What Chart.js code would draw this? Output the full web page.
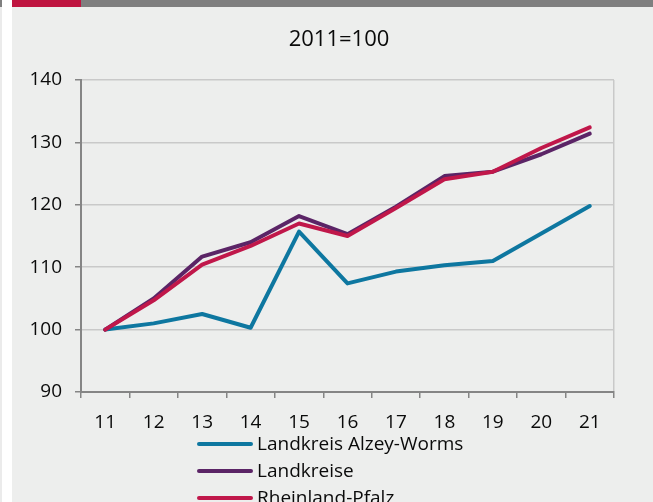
<!DOCTYPE html>
<html>
<head>
<meta charset="utf-8">
<script src="https://cdn.jsdelivr.net/npm/chart.js@4"></script>
<style>
  html, body { margin: 0; padding: 0; background: #ffffff; overflow: hidden; }
  #edge { position: absolute; left: 0; top: 0; width: 2px; height: 502px; background: #ebebeb; }
  #edge::before { content: ""; position: absolute; left: 0; top: 0; width: 2px; height: 7px; background: #7f7f7f; }
  #panel { position: absolute; left: 12px; top: 0; width: 641px; height: 502px; background: #edeeed; }
  #bar { position: absolute; left: 0; top: 0; width: 641px; height: 7px; background: #7f7f7f; }
  #bar span { position: absolute; left: 0; top: 0; width: 69px; height: 7px; background: #bf1540; }
  #chart { position: absolute; left: 0; top: 7px; }
</style>
</head>
<body>
<div id="edge"></div>
<div id="panel">
  <div id="bar"><span></span></div>
  <canvas id="chart" width="641" height="495"></canvas>
</div>
<script>
// Jahre (2011 = 100)
const years = ['11', '12', '13', '14', '15', '16', '17', '18', '19', '20', '21'];
const alzeyWorms = [100, 101.0, 102.5, 100.3, 115.7, 107.4, 109.3, 110.3, 111.0, 115.4, 119.8];
const landkreise = [100, 105.0, 111.7, 114.0, 118.2, 115.3, 119.7, 124.6, 125.3, 128.1, 131.4];
const rheinlandPfalz = [100, 104.7, 110.4, 113.4, 117.0, 115.0, 119.5, 124.1, 125.3, 129.1, 132.4];
const yTicks = [90, 100, 110, 120, 130, 140];
const titleText = '2011=100';

const FONT = "'Open Sans', 'Noto Sans', sans-serif";
const TEXT = '#0a0a0a';
const GRID = '#c9c9c9';
const AXIS = '#858585';

// Title and vertically stacked legend drawn on the canvas
const annotations = {
  id: 'annotations',
  afterDraw(chart) {
    const ctx = chart.ctx;
    ctx.save();
    ctx.fillStyle = TEXT;
    ctx.font = '22px ' + FONT;
    ctx.textAlign = 'center';
    ctx.textBaseline = 'middle';
    ctx.fillText(titleText, 327, 33);

    const items = chart.data.datasets;
    ctx.textAlign = 'left';
    ctx.font = '19px ' + FONT;
    items.forEach((ds, i) => {
      const y = 437 + i * 27;
      ctx.strokeStyle = ds.borderColor;
      ctx.lineWidth = 4;
      ctx.lineCap = 'round';
      ctx.beginPath();
      ctx.moveTo(187, y);
      ctx.lineTo(239, y);
      ctx.stroke();
      ctx.fillStyle = TEXT;
      ctx.fillText(ds.label, 245, y + 1);
    });
    ctx.restore();
  }
};

new Chart(document.getElementById('chart'), {
  type: 'line',
  data: {
    labels: years,
    datasets: [
      { label: 'Landkreis Alzey-Worms', data: alzeyWorms, borderColor: '#0e77a0', order: 2 },
      { label: 'Landkreise', data: landkreise, borderColor: '#5b2466', order: 1 },
      { label: 'Rheinland-Pfalz', data: rheinlandPfalz, borderColor: '#c0174a', order: 0 }
    ]
  },
  options: {
    responsive: false,
    animation: false,
    devicePixelRatio: 1,
    layout: { padding: { top: 73, right: 39, left: 0, bottom: 0 } },
    elements: {
      line: { borderWidth: 4, tension: 0, borderCapStyle: 'round', borderJoinStyle: 'round', fill: false },
      point: { radius: 0, hoverRadius: 0 }
    },
    plugins: {
      legend: { display: false },
      title: { display: false },
      tooltip: { enabled: false }
    },
    scales: {
      x: {
        offset: true,
        afterFit(scale) { scale.height = 110; },
        grid: {
          offset: true,
          drawOnChartArea: true,
          color: (c) => (c.type === 'scale' ? GRID : 'rgba(0,0,0,0)'),
          lineWidth: 1.5,
          tickColor: AXIS,
          tickLength: 6,
          tickWidth: 1.5
        },
        border: { color: AXIS, width: 2 },
        ticks: {
          color: TEXT,
          font: { family: FONT, size: 19 },
          padding: 13,
          maxRotation: 0
        }
      },
      y: {
        min: 90,
        max: 140,
        afterFit(scale) { scale.width = 69; },
        afterBuildTicks(scale) { scale.ticks = yTicks.map(v => ({ value: v })); },
        grid: {
          color: GRID,
          lineWidth: 1.5,
          tickColor: AXIS,
          tickLength: 6,
          tickWidth: 1.5
        },
        border: { color: AXIS, width: 2 },
        ticks: {
          color: TEXT,
          font: { family: FONT, size: 19 },
          padding: 13
        }
      }
    }
  },
  plugins: [annotations]
});
</script>
</body>
</html>
